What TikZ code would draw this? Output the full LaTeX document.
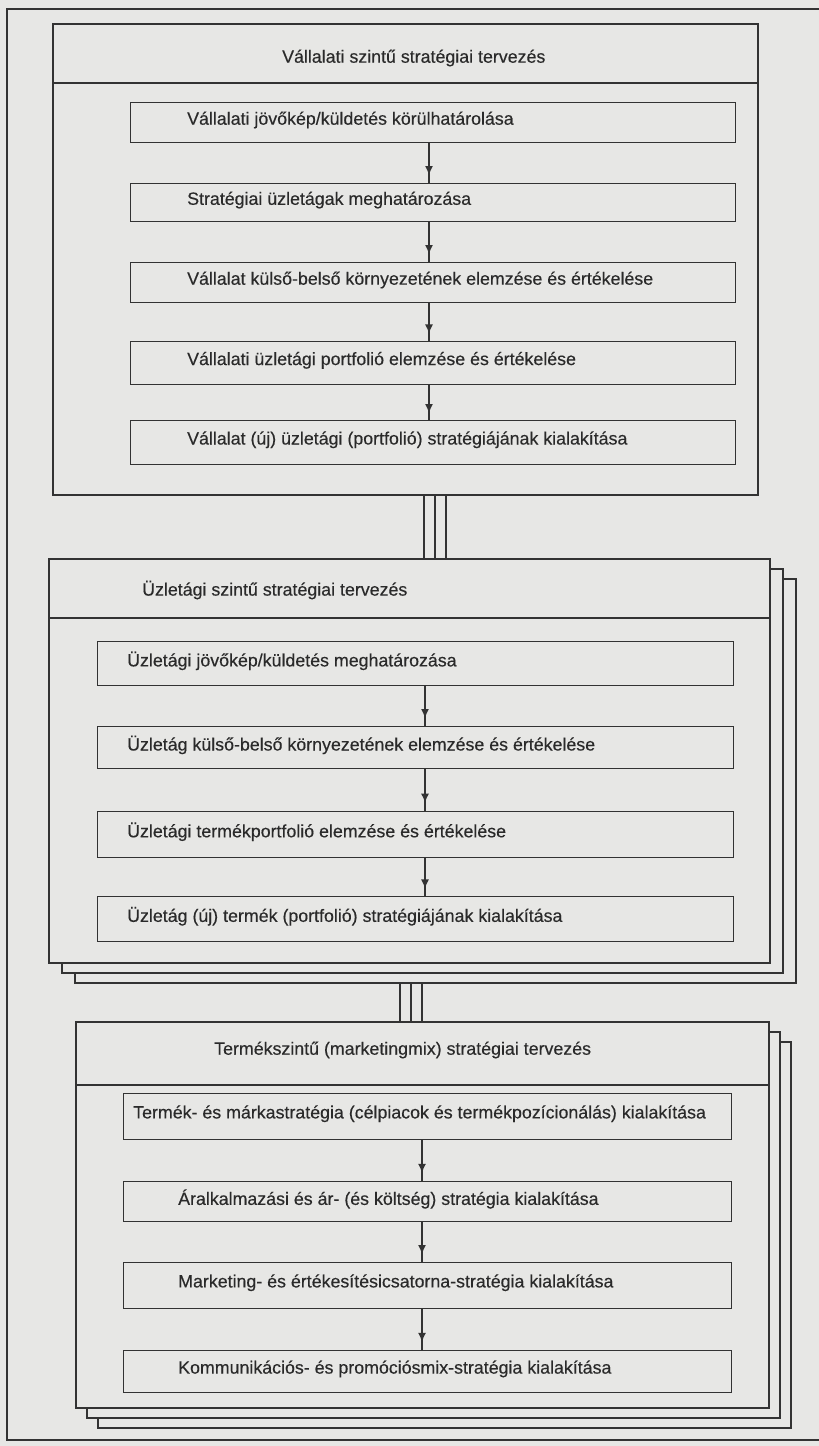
\documentclass[tikz,border=0pt]{standalone}
\usepackage{fontspec}
\setmainfont{Liberation Sans}[FakeBold=0.35]
\usetikzlibrary{calc,decorations.markings,arrows.meta,backgrounds}
\definecolor{paper}{HTML}{E7E7E5}
\definecolor{ink}{HTML}{333333}
\definecolor{txt}{HTML}{2A2A2A}

% one step of a planning level: box plus its left-aligned caption
% #1 name, #2 x, #3 y (top), #4 width, #5 height, #6 text indent, #7 text
\newcommand\flowbox[7]{%
  \node[stepbox, minimum width=#4pt, minimum height=#5pt] (#1) at (#2,#3) {};
  \node[lbl] (#1-t) at ($(#1.north west)+(#6,{0.45*#5})$) {#7};
}

\begin{document}
\begin{tikzpicture}[x=1pt,y=-1pt,
  panel/.style={draw=ink, fill=paper, line width=1.5pt, rectangle, inner sep=0pt, anchor=north west},
  stepbox/.style={draw=ink, fill=paper, line width=1.4pt, rectangle, inner sep=0pt, anchor=north west},
  lbl/.style={anchor=west, inner sep=0pt, text=txt, font=\fontsize{17.8}{21}\selectfont},
  rule/.style={draw=ink, line width=1.4pt},
  link/.style={draw=ink, line width=1.4pt},
  flow/.style={draw=ink, line width=1.4pt, postaction={decorate},
    decoration={markings, mark=at position 0.8 with {\arrow{Latex[length=9pt,width=8pt]}}}}
]
\useasboundingbox (0,0) rectangle (819,1446);

% page frame
\draw[rule] (819,9) -- (7,9) -- (7,1440) -- (819,1440);

% ---------- corporate level ----------
\node[panel, minimum width=705pt, minimum height=471pt] (P1) at (52,23) {};
\draw[rule] (P1.north west) ++(0,60) -- ++(705,0);
\node[lbl] (P1-t) at (282,58) {Vállalati szintű stratégiai tervezés};

\flowbox{a1}{130}{102}{605}{40}{57}{Vállalati jövőkép/küldetés körülhatárolása}
\flowbox{a2}{130}{183}{605}{38}{57}{Stratégiai üzletágak meghatározása}
\flowbox{a3}{130}{262}{605}{40}{57}{Vállalat külső-belső környezetének elemzése és értékelése}
\flowbox{a4}{130}{341}{605}{43}{57}{Vállalati üzletági portfolió elemzése és értékelése}
\flowbox{a5}{130}{420}{605}{44}{57}{Vállalat (új) üzletági (portfolió) stratégiájának kialakítása}

\draw[flow] (429,0 |- a1.south) -- (429,0 |- a2.north);
\draw[flow] (429,0 |- a2.south) -- (429,0 |- a3.north);
\draw[flow] (429,0 |- a3.south) -- (429,0 |- a4.north);
\draw[flow] (429,0 |- a4.south) -- (429,0 |- a5.north);

% ---------- business-unit level (stacked sheets) ----------
\node[panel, minimum width=721pt, minimum height=404pt] (P2c) at (74,578) {};
\node[panel, minimum width=721pt, minimum height=404pt] (P2b) at (61,568) {};
\node[panel, minimum width=721pt, minimum height=404pt] (P2) at (48,558) {};
\draw[rule] (P2.north west) ++(0,60) -- ++(721,0);
\node[lbl] (P2-t) at (142,590) {Üzletági szintű stratégiai tervezés};

\flowbox{b1}{97}{641}{636}{44}{30}{Üzletági jövőkép/küldetés meghatározása}
\flowbox{b2}{97}{726}{636}{42}{30}{Üzletág külső-belső környezetének elemzése és értékelése}
\flowbox{b3}{97}{811}{636}{46}{30}{Üzletági termékportfolió elemzése és értékelése}
\flowbox{b4}{97}{896}{636}{45}{30}{Üzletág (új) termék (portfolió) stratégiájának kialakítása}

\draw[flow] (425,0 |- b1.south) -- (425,0 |- b2.north);
\draw[flow] (425,0 |- b2.south) -- (425,0 |- b3.north);
\draw[flow] (425,0 |- b3.south) -- (425,0 |- b4.north);

% ---------- product level (stacked sheets) ----------
\node[panel, minimum width=693pt, minimum height=386pt] (P3c) at (97,1041) {};
\node[panel, minimum width=693pt, minimum height=386pt] (P3b) at (86,1031) {};
\node[panel, minimum width=693pt, minimum height=386pt] (P3) at (75,1021) {};
\draw[rule] (P3.north west) ++(0,64) -- ++(693,0);
\node[lbl] (P3-t) at (214,1050) {Termékszintű (marketingmix) stratégiai tervezés};

\flowbox{c1}{123}{1093}{608}{46}{10}{Termék- és márkastratégia (célpiacok és termékpozícionálás) kialakítása}
\flowbox{c2}{123}{1181}{608}{40}{55}{Áralkalmazási és ár- (és költség) stratégia kialakítása}
\flowbox{c3}{123}{1262}{608}{46}{55}{Marketing- és értékesítésicsatorna-stratégia kialakítása}
\flowbox{c4}{123}{1350}{608}{42}{55}{Kommunikációs- és promóciósmix-stratégia kialakítása}

\draw[flow] (422,0 |- c1.south) -- (422,0 |- c2.north);
\draw[flow] (422,0 |- c2.south) -- (422,0 |- c3.north);
\draw[flow] (422,0 |- c3.south) -- (422,0 |- c4.north);

% paper and the triple links between levels, behind the sheets
\begin{scope}[on background layer]
  \fill[paper] (0,0) rectangle (819,1446);
  \foreach \lx in {424,435,446}
    \draw[link] (\lx,0 |- P1.south) -- (\lx,0 |- P2.north);
  \foreach \lx in {400,411,422}
    \draw[link] (\lx,0 |- P2c.south) -- (\lx,0 |- P3.north);
\end{scope}
\end{tikzpicture}
\end{document}
